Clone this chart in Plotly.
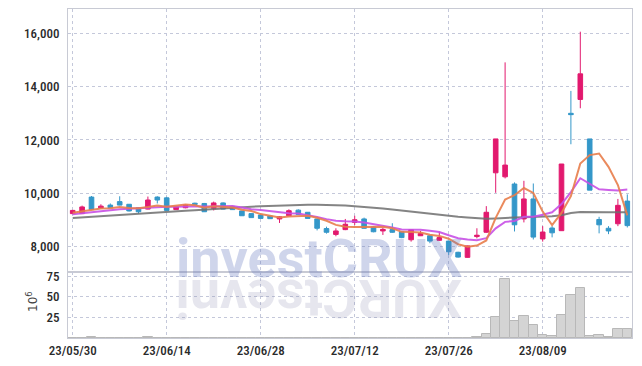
import plotly.graph_objects as go

dates = ["23/05/30","23/05/31","23/06/01","23/06/02","23/06/05","23/06/07","23/06/08","23/06/09","23/06/12","23/06/13",
         "23/06/14","23/06/15","23/06/16","23/06/19","23/06/20","23/06/21","23/06/22","23/06/23","23/06/26","23/06/27",
         "23/06/28","23/06/29","23/06/30","23/07/03","23/07/04","23/07/05","23/07/06","23/07/07","23/07/10","23/07/11",
         "23/07/12","23/07/13","23/07/14","23/07/17","23/07/18","23/07/19","23/07/20","23/07/21","23/07/24","23/07/25",
         "23/07/26","23/07/27","23/07/28","23/07/31","23/08/01","23/08/02","23/08/03","23/08/04","23/08/07","23/08/08",
         "23/08/09","23/08/10","23/08/11","23/08/14","23/08/16","23/08/17","23/08/18","23/08/21","23/08/22","23/08/23"]

open_ = [9240, 9240, 9860, 9450, 9560, 9690, 9590, 9460, 9410, 9860,
         9830, 9390, 9460, 9630, 9620, 9440, 9640, 9510, 9340, 9240,
         9190, 9150, 9040, 9160, 9370, 9290, 9040, 8680, 8460, 8640,
         8910, 9040, 8740, 8590, 8640, 8560, 8260, 8410, 8410, 8240,
         8210, 7790, 7600, 8380, 8540, 10770, 10620, 10350, 9040, 9790,
         8290, 8700, 8600, 13000, 13520, 12040, 9020, 8690, 8860, 9710]
high = [9380, 9540, 9900, 9590, 9620, 9890, 9600, 9480, 9880, 9890,
        9870, 9520, 9580, 9650, 9640, 9690, 9660, 9530, 9350, 9250,
        9200, 9160, 9140, 9400, 9400, 9300, 9050, 8750, 8690, 9040,
        9160, 9090, 8760, 8710, 8880, 8580, 8660, 8590, 8440, 8560,
        8230, 7810, 8040, 8690, 9520, 12040, 14910, 10410, 10470, 10370,
        8770, 8770, 11100, 13840, 16060, 12040, 9120, 8770, 9790, 9960]
low = [9220, 9230, 9380, 9430, 9450, 9550, 9320, 9240, 9400, 9620,
       9340, 9380, 9440, 9580, 9300, 9360, 9400, 9380, 9150, 9080,
       9050, 9040, 8890, 9150, 9200, 9050, 8610, 8490, 8390, 8620,
       8810, 8680, 8540, 8440, 8520, 8320, 8190, 8400, 8130, 8220,
       7690, 7590, 7590, 8310, 8520, 10020, 10560, 8570, 8910, 8270,
       8190, 8350, 8590, 11840, 13190, 10120, 8500, 8470, 8770, 8720]
close = [9360, 9490, 9390, 9520, 9460, 9560, 9340, 9310, 9750, 9750,
         9360, 9500, 9560, 9590, 9310, 9640, 9410, 9390, 9160, 9090,
         9060, 9050, 9120, 9350, 9210, 9060, 8690, 8540, 8590, 8840,
         9010, 8690, 8560, 8650, 8540, 8340, 8640, 8490, 8210, 8340,
         7810, 7610, 8030, 8430, 9290, 12040, 11060, 8820, 9790, 8360,
         8550, 8520, 11100, 12950, 14480, 10120, 8820, 8590, 9550, 8790]

ma_short = [9270, 9320, 9390, 9430, 9444, 9484, 9454, 9438, 9484, 9542,
            9502, 9534, 9584, 9552, 9464, 9520, 9502, 9468, 9382, 9338,
            9222, 9150, 9096, 9134, 9158, 9158, 9086, 8970, 8818, 8744,
            8734, 8734, 8738, 8750, 8690, 8556, 8546, 8532, 8444, 8404,
            8298, 8092, 8000, 8044, 8234, 9080, 9770, 9928, 10200, 10014,
            9316, 8808, 9264, 9896, 11120, 11434, 11494, 10992, 10312, 9174]
ma_mid = [9220, 9260, 9300, 9340, 9370, 9400, 9420, 9440, 9470, 9493,
          9493, 9494, 9511, 9518, 9503, 9511, 9518, 9526, 9467, 9401,
          9371, 9326, 9282, 9258, 9248, 9190, 9118, 9033, 8976, 8951,
          8946, 8910, 8854, 8784, 8717, 8645, 8640, 8635, 8597, 8547,
          8427, 8319, 8266, 8244, 8319, 8689, 8931, 8964, 9122, 9124,
          9198, 9289, 9596, 10048, 10567, 10375, 10151, 10128, 10104, 10147]
ma_long = [9080, 9100, 9120, 9140, 9160, 9180, 9200, 9220, 9245, 9270,
           9295, 9320, 9345, 9370, 9395, 9420, 9440, 9460, 9480, 9500,
           9515, 9530, 9545, 9555, 9565, 9570, 9570, 9565, 9555, 9540,
           9520, 9495, 9465, 9430, 9390, 9350, 9300, 9260, 9220, 9180,
           9150, 9120, 9090, 9060, 9045, 9060, 9085, 9095, 9105, 9115,
           9125, 9140, 9180, 9260, 9300, 9305, 9300, 9295, 9290, 9290]

volume = [0.3, 0.3, 1.2, 0.3, 0.3, 0.3, 0.3, 0.3, 1.0, 0.3,
          0.3, 0.3, 0.3, 0.3, 0.3, 0.3, 0.3, 0.3, 0.3, 0.3,
          0.3, 0.3, 0.3, 0.3, 0.3, 0.3, 0.3, 0.3, 0.3, 0.3,
          0.3, 0.3, 0.3, 0.3, 0.3, 0.3, 0.3, 0.3, 0.3, 0.3,
          0.3, 0.3, 0.3, 1.2, 4.9, 26, 72, 20.7, 26.8, 15.8,
          3.6, 2.4, 28, 51.6, 61, 2.4, 3.6, 1.2, 11, 11]

tick_idx = [0, 10, 20, 30, 40, 50]
tick_vals = [dates[i] for i in tick_idx]
price_ticks = [8000, 10000, 12000, 14000, 16000]
vol_ticks = [25, 50, 75]
watermark = "investCRUX"

RED = "#e2196e"
BLUE = "#3497c9"
GRID = "#c4c8da"
TICKFONT = dict(family="Roboto Condensed, Roboto, sans-serif", size=13, color="#2a2a2a", weight=500)
WMFONT = "Roboto, sans-serif"

fig = go.Figure()

fig.add_trace(go.Candlestick(
    x=dates, open=open_, high=high, low=low, close=close,
    increasing=dict(line=dict(color=RED, width=1), fillcolor=RED),
    decreasing=dict(line=dict(color=BLUE, width=1), fillcolor=BLUE),
    xaxis="x", yaxis="y", hoverinfo="skip", showlegend=False))

fig.add_trace(go.Scatter(x=dates, y=ma_long, mode="lines", line=dict(color="rgba(110,110,110,0.85)", width=2),
                         xaxis="x", yaxis="y", hoverinfo="skip", showlegend=False))
fig.add_trace(go.Scatter(x=dates, y=ma_mid, mode="lines", line=dict(color="rgba(200,80,230,0.9)", width=2),
                         xaxis="x", yaxis="y", hoverinfo="skip", showlegend=False))
fig.add_trace(go.Scatter(x=dates, y=ma_short, mode="lines", line=dict(color="rgba(232,125,75,0.9)", width=2),
                         xaxis="x", yaxis="y", hoverinfo="skip", showlegend=False))

fig.add_trace(go.Bar(x=dates, y=volume, marker=dict(color="#d4d4d4", line=dict(color="#b8b8b8", width=1)),
                     xaxis="x2", yaxis="y2", hoverinfo="skip", showlegend=False))

split = (338 - 272) / 329.0

common_x = dict(type="category", range=[-0.5, 59.5], tickvals=tick_vals, showgrid=True,
                gridcolor=GRID, griddash="dot", gridwidth=1, showline=True, linecolor="#c8cad4",
                mirror=True, ticks="", zeroline=False, automargin=False)

fig.update_layout(
    width=642, height=366,
    margin=dict(l=68, r=10, t=9, b=28, autoexpand=False),
    paper_bgcolor="white", plot_bgcolor="white",
    bargap=0,
    xaxis=dict(**common_x, anchor="y", domain=[0, 1], showticklabels=False,
               rangeslider=dict(visible=False)),
    xaxis2=dict(**common_x, anchor="y2", domain=[0, 1], matches="x", showticklabels=True,
                ticktext=tick_vals, tickfont=TICKFONT, rangeslider=dict(visible=False)),
    yaxis=dict(domain=[split, 1], anchor="x", range=[7051, 16911], tickvals=price_ticks,
               tickformat=",", showgrid=True, gridcolor=GRID, griddash="dot", showline=True,
               linecolor="#c8cad4", mirror=True, zeroline=False, ticks="", ticklabelstandoff=5,
               automargin=False, tickfont=TICKFONT),
    yaxis2=dict(domain=[0, split], anchor="x2", range=[0, 80], tickvals=vol_ticks,
                showgrid=True, gridcolor=GRID, griddash="dot", showline=True,
                linecolor="#c8cad4", mirror=True, zeroline=False, ticks="", ticklabelstandoff=5,
                automargin=False, tickfont=TICKFONT),
)

def px_x(x):
    return (x - 68) / 564.0

def px_y(y):
    return (338 - y) / 329.0

annotations = []
annotations.append(dict(text="10<sup>6</sup>", xref="paper", yref="paper", x=px_x(32), y=px_y(302),
                        showarrow=False, textangle=-90, xanchor="center", yanchor="middle",
                        font=dict(family="DejaVu Sans", size=12, color="#444")))

WM_SIZE = 54
annotations.append(dict(text=watermark, xref="paper", yref="paper", x=px_x(319), y=px_y(258),
                        showarrow=False, xanchor="center", yanchor="middle",
                        font=dict(family=WMFONT, size=WM_SIZE, weight=700, color="rgba(100,120,190,0.31)")))
annotations.append(dict(text=watermark[::-1], xref="paper", yref="paper", x=px_x(319), y=px_y(299),
                        showarrow=False, textangle=180, xanchor="center", yanchor="middle",
                        font=dict(family=WMFONT, size=WM_SIZE, weight=700, color="rgba(130,130,170,0.2)")))

fig.update_layout(annotations=annotations)

fig.write_html("out.html", config={"displayModeBar": False},
               post_script="document.body.style.margin='0';document.body.style.padding='0';")
